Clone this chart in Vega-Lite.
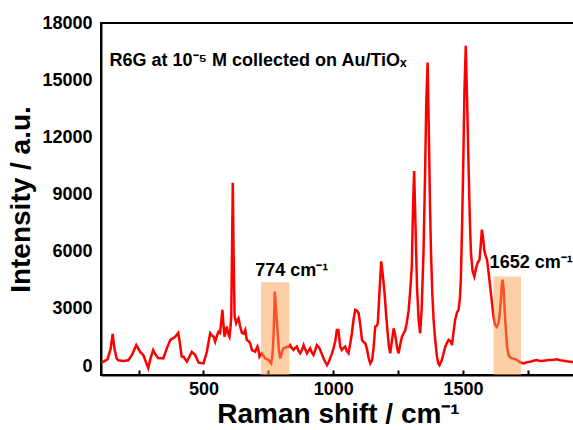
{
  "$schema": "https://vega.github.io/schema/vega-lite/v6.json",
  "width": 474,
  "height": 352,
  "autosize": "none",
  "padding": {"left": 101, "top": 23, "right": 0, "bottom": 55},
  "background": "white",
  "config": {
    "view": {"stroke": "black", "strokeWidth": 2},
    "font": "Liberation Sans"
  },
  "datasets": {
    "spectrum": [
      {"shift":105,"intensity":180},{"shift":115,"intensity":230},{"shift":130,"intensity":350},{"shift":142,"intensity":900},{"shift":150,"intensity":1680},{"shift":157,"intensity":900},{"shift":165,"intensity":400},{"shift":172,"intensity":300},{"shift":190,"intensity":260},{"shift":210,"intensity":300},{"shift":225,"intensity":600},{"shift":241,"intensity":1100},{"shift":256,"intensity":740},{"shift":268,"intensity":580},{"shift":280,"intensity":150},{"shift":287,"intensity":-100},{"shift":296,"intensity":400},{"shift":306,"intensity":840},{"shift":315,"intensity":600},{"shift":325,"intensity":420},{"shift":345,"intensity":400},{"shift":358,"intensity":900},{"shift":372,"intensity":1370},{"shift":391,"intensity":1530},{"shift":403,"intensity":1740},{"shift":410,"intensity":1100},{"shift":416,"intensity":500},{"shift":423,"intensity":490},{"shift":436,"intensity":230},{"shift":446,"intensity":500},{"shift":455,"intensity":750},{"shift":468,"intensity":580},{"shift":481,"intensity":175},{"shift":500,"intensity":140},{"shift":507,"intensity":450},{"shift":513,"intensity":750},{"shift":520,"intensity":1300},{"shift":526,"intensity":1720},{"shift":533,"intensity":1600},{"shift":539,"intensity":1540},{"shift":545,"intensity":1280},{"shift":552,"intensity":1600},{"shift":558,"intensity":1800},{"shift":564,"intensity":1740},{"shift":569,"intensity":2400},{"shift":573,"intensity":2950},{"shift":577,"intensity":2200},{"shift":581,"intensity":1540},{"shift":585,"intensity":1800},{"shift":590,"intensity":2070},{"shift":595,"intensity":1700},{"shift":600,"intensity":1540},{"shift":604,"intensity":2000},{"shift":607,"intensity":2600},{"shift":610,"intensity":6000},{"shift":613,"intensity":9615},{"shift":616,"intensity":6000},{"shift":620,"intensity":2600},{"shift":626,"intensity":2260},{"shift":630,"intensity":2400},{"shift":635,"intensity":2510},{"shift":641,"intensity":2100},{"shift":648,"intensity":1740},{"shift":655,"intensity":1700},{"shift":661,"intensity":1890},{"shift":667,"intensity":1370},{"shift":674,"intensity":1300},{"shift":680,"intensity":1190},{"shift":687,"intensity":840},{"shift":693,"intensity":800},{"shift":699,"intensity":750},{"shift":704,"intensity":900},{"shift":708,"intensity":1020},{"shift":712,"intensity":840},{"shift":716,"intensity":490},{"shift":725,"intensity":670},{"shift":738,"intensity":400},{"shift":751,"intensity":320},{"shift":761,"intensity":140},{"shift":766,"intensity":600},{"shift":770,"intensity":1540},{"shift":775,"intensity":3910},{"shift":782,"intensity":2500},{"shift":787,"intensity":1540},{"shift":791,"intensity":800},{"shift":796,"intensity":400},{"shift":802,"intensity":700},{"shift":808,"intensity":930},{"shift":815,"intensity":950},{"shift":821,"intensity":1020},{"shift":828,"intensity":1000},{"shift":834,"intensity":1100},{"shift":840,"intensity":950},{"shift":847,"intensity":840},{"shift":853,"intensity":950},{"shift":860,"intensity":1020},{"shift":866,"intensity":800},{"shift":873,"intensity":670},{"shift":880,"intensity":850},{"shift":886,"intensity":1100},{"shift":893,"intensity":850},{"shift":899,"intensity":670},{"shift":905,"intensity":800},{"shift":911,"intensity":930},{"shift":918,"intensity":700},{"shift":924,"intensity":580},{"shift":931,"intensity":850},{"shift":937,"intensity":1100},{"shift":944,"intensity":1000},{"shift":950,"intensity":840},{"shift":957,"intensity":600},{"shift":963,"intensity":400},{"shift":970,"intensity":200},{"shift":976,"intensity":50},{"shift":982,"intensity":200},{"shift":988,"intensity":400},{"shift":995,"intensity":650},{"shift":1001,"intensity":930},{"shift":1008,"intensity":1300},{"shift":1014,"intensity":1890},{"shift":1020,"intensity":1890},{"shift":1027,"intensity":1020},{"shift":1033,"intensity":840},{"shift":1040,"intensity":950},{"shift":1046,"intensity":1020},{"shift":1052,"intensity":800},{"shift":1059,"intensity":670},{"shift":1066,"intensity":1200},{"shift":1072,"intensity":1720},{"shift":1078,"intensity":2400},{"shift":1085,"intensity":2950},{"shift":1092,"intensity":2900},{"shift":1098,"intensity":2770},{"shift":1104,"intensity":2200},{"shift":1111,"intensity":1370},{"shift":1118,"intensity":1250},{"shift":1124,"intensity":1190},{"shift":1130,"intensity":900},{"shift":1137,"intensity":400},{"shift":1143,"intensity":140},{"shift":1150,"intensity":300},{"shift":1156,"intensity":1000},{"shift":1162,"intensity":2070},{"shift":1167,"intensity":2100},{"shift":1172,"intensity":2250},{"shift":1178,"intensity":3800},{"shift":1185,"intensity":5490},{"shift":1191,"intensity":4800},{"shift":1198,"intensity":3830},{"shift":1204,"intensity":2700},{"shift":1210,"intensity":1720},{"shift":1215,"intensity":1000},{"shift":1220,"intensity":670},{"shift":1226,"intensity":1300},{"shift":1233,"intensity":1980},{"shift":1238,"intensity":1700},{"shift":1242,"intensity":1370},{"shift":1247,"intensity":900},{"shift":1252,"intensity":670},{"shift":1258,"intensity":1100},{"shift":1265,"intensity":1540},{"shift":1271,"intensity":1700},{"shift":1278,"intensity":1890},{"shift":1284,"intensity":2300},{"shift":1291,"intensity":2950},{"shift":1297,"intensity":4000},{"shift":1303,"intensity":5230},{"shift":1308,"intensity":8500},{"shift":1312,"intensity":10230},{"shift":1317,"intensity":7500},{"shift":1323,"intensity":4170},{"shift":1329,"intensity":2500},{"shift":1335,"intensity":1720},{"shift":1341,"intensity":3000},{"shift":1348,"intensity":5930},{"shift":1354,"intensity":10000},{"shift":1359,"intensity":14000},{"shift":1364,"intensity":15930},{"shift":1369,"intensity":12000},{"shift":1373,"intensity":8500},{"shift":1377,"intensity":5930},{"shift":1382,"intensity":3800},{"shift":1387,"intensity":2420},{"shift":1393,"intensity":1400},{"shift":1400,"intensity":490},{"shift":1405,"intensity":150},{"shift":1410,"intensity":50},{"shift":1415,"intensity":200},{"shift":1419,"intensity":320},{"shift":1426,"intensity":700},{"shift":1432,"intensity":1020},{"shift":1438,"intensity":1200},{"shift":1445,"intensity":1370},{"shift":1452,"intensity":1300},{"shift":1458,"intensity":1100},{"shift":1464,"intensity":1800},{"shift":1470,"intensity":2420},{"shift":1477,"intensity":2800},{"shift":1483,"intensity":2950},{"shift":1488,"intensity":3500},{"shift":1492,"intensity":4530},{"shift":1497,"intensity":7500},{"shift":1502,"intensity":11190},{"shift":1506,"intensity":14500},{"shift":1511,"intensity":16800},{"shift":1516,"intensity":14000},{"shift":1522,"intensity":10320},{"shift":1527,"intensity":7500},{"shift":1531,"intensity":5930},{"shift":1537,"intensity":5000},{"shift":1544,"intensity":4700},{"shift":1550,"intensity":5100},{"shift":1556,"intensity":5400},{"shift":1564,"intensity":5580},{"shift":1569,"intensity":6400},{"shift":1573,"intensity":7160},{"shift":1578,"intensity":6700},{"shift":1582,"intensity":6100},{"shift":1587,"intensity":5800},{"shift":1593,"intensity":5580},{"shift":1599,"intensity":4900},{"shift":1605,"intensity":4170},{"shift":1612,"intensity":3300},{"shift":1618,"intensity":2600},{"shift":1624,"intensity":2150},{"shift":1630,"intensity":2050},{"shift":1636,"intensity":2200},{"shift":1641,"intensity":2600},{"shift":1646,"intensity":3400},{"shift":1650,"intensity":4300},{"shift":1653,"intensity":4530},{"shift":1657,"intensity":4000},{"shift":1663,"intensity":2420},{"shift":1667,"intensity":1600},{"shift":1670,"intensity":1020},{"shift":1676,"intensity":580},{"shift":1682,"intensity":450},{"shift":1689,"intensity":400},{"shift":1698,"intensity":380},{"shift":1708,"intensity":320},{"shift":1720,"intensity":200},{"shift":1734,"intensity":140},{"shift":1746,"intensity":200},{"shift":1759,"intensity":230},{"shift":1772,"intensity":280},{"shift":1785,"intensity":320},{"shift":1798,"intensity":260},{"shift":1811,"intensity":280},{"shift":1824,"intensity":300},{"shift":1837,"intensity":320},{"shift":1850,"intensity":330},{"shift":1862,"intensity":350},{"shift":1875,"intensity":300},{"shift":1888,"intensity":280},{"shift":1900,"intensity":250},{"shift":1914,"intensity":230},{"shift":1930,"intensity":200}
    ],
    "boxes": [
      {"start": 722, "end": 831, "top": 4400},
      {"start": 1618, "end": 1724, "top": 4700}
    ],
    "peaklabels": [
      {"shift": 840, "intensity": 4750, "text": "774 cm⁻¹"},
      {"shift": 1763, "intensity": 5160, "text": "1652 cm⁻¹"}
    ],
    "title": [
      {"shift": 138, "intensity": 15740, "text": "R6G at 10⁻⁵ M collected on Au/TiOₓ"}
    ]
  },
  "encoding": {
    "x": {
      "field": "shift", "type": "quantitative",
      "scale": {"domain": [105, 1932], "nice": false, "zero": false},
      "axis": {
        "title": "Raman shift / cm⁻¹",
        "titleFont": "Liberation Sans", "titleFontSize": 28, "titleFontWeight": "bold", "titleColor": "black",
        "titlePadding": 2,
        "values": [250, 500, 750, 1000, 1250, 1500, 1750],
        "labelExpr": "datum.value % 500 == 0 ? datum.label : ''",
        "format": "d",
        "labelFont": "Liberation Sans", "labelFontSize": 18, "labelFontWeight": "bold", "labelColor": "black",
        "labelPadding": 10,
        "tickSize": -5, "tickWidth": 2, "tickColor": "black",
        "domainColor": "black", "domainWidth": 2,
        "grid": false
      }
    },
    "y": {
      "field": "intensity", "type": "quantitative",
      "scale": {"domain": [-470, 18000], "nice": false, "zero": false},
      "axis": {
        "title": "Intensity / a.u.",
        "titleFont": "Liberation Sans", "titleFontSize": 28, "titleFontWeight": "bold", "titleColor": "black",
        "titlePadding": 6,
        "values": [0, 3000, 6000, 9000, 12000, 15000, 18000],
        "format": "d",
        "labelFont": "Liberation Sans", "labelFontSize": 18, "labelFontWeight": "bold", "labelColor": "black",
        "labelPadding": 9,
        "ticks": false,
        "domainColor": "black", "domainWidth": 2,
        "grid": false
      }
    }
  },
  "layer": [
    {
      "data": {"name": "spectrum"},
      "mark": {"type": "line", "color": "#ff0000", "strokeWidth": 2.5, "clip": true}
    },
    {
      "data": {"name": "boxes"},
      "mark": {"type": "rect", "color": "#f9a050", "opacity": 0.5},
      "encoding": {
        "x": {"field": "start", "type": "quantitative"},
        "x2": {"field": "end"},
        "y": {"field": "top", "type": "quantitative"},
        "y2": {"datum": -470}
      }
    },
    {
      "data": {"name": "peaklabels"},
      "mark": {"type": "text", "font": "Liberation Sans", "fontWeight": "bold", "fontSize": 18, "baseline": "alphabetic", "align": "center", "color": "black"},
      "encoding": {"text": {"field": "text"}}
    },
    {
      "data": {"name": "title"},
      "mark": {"type": "text", "font": "Liberation Sans", "fontWeight": "bold", "fontSize": 18, "baseline": "alphabetic", "align": "left", "color": "black"},
      "encoding": {"text": {"field": "text"}}
    }
  ]
}
